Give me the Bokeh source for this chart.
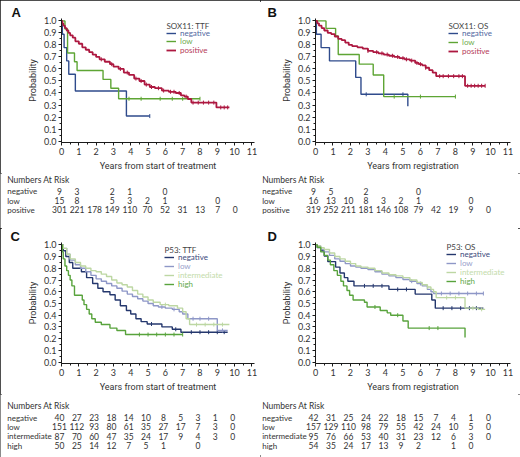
import numpy as np
from bokeh.plotting import figure
from bokeh.models import (Range1d, SingleIntervalTicker, NumeralTickFormatter, Label,
                          Legend, LegendItem, GridBox)
from bokeh.layouts import row
from bokeh.embed import file_html
from bokeh.resources import INLINE
from bokeh.core.properties import value

YEARS = list(range(11))

# ---------------- Panel A: SOX11 TTF ----------------
A_neg_t = [0, 0.05, 0.15, 0.3, 0.42, 0.8, 3.75]
A_neg_s = [1.0, 0.889, 0.778, 0.667, 0.556, 0.417, 0.208]
A_neg_end = 5.1
A_neg_cens = [5.1]
A_low_t = [0, 0.2, 0.35, 0.75, 0.9, 2.4, 2.85, 3.3]
A_low_s = [1.0, 0.933, 0.733, 0.66, 0.587, 0.513, 0.44, 0.352]
A_low_end = 8.0
A_low_cens = [3.9, 4.6, 5.7, 6.4, 7.0, 8.0]
A_pos_t = [0, 0.05, 0.1, 0.2, 0.3, 0.4, 0.5, 0.65, 0.8, 1.0, 1.2, 1.4, 1.6, 1.8, 2.0, 2.2,
           2.5, 2.8, 3.0, 3.3, 3.6, 3.9, 4.2, 4.5, 4.8, 5.1, 5.4, 5.8, 6.2, 6.6, 6.9, 7.1,
           7.3, 7.5, 8.95]
A_pos_s = [1.0, 0.98, 0.96, 0.94, 0.92, 0.90, 0.88, 0.86, 0.83, 0.81, 0.78, 0.76, 0.74, 0.72,
           0.70, 0.68, 0.66, 0.64, 0.62, 0.60, 0.57, 0.55, 0.52, 0.50, 0.47, 0.45, 0.44, 0.42,
           0.41, 0.40, 0.38, 0.37, 0.35, 0.32, 0.28]
A_pos_end = 9.7
A_pos_cens = [2.3, 2.9, 3.4, 3.8, 4.3, 4.6, 4.9, 5.2, 5.6, 5.9, 6.3, 6.5, 6.8, 7.2, 7.6,
              7.9, 8.2, 8.5, 8.8, 9.2, 9.4, 9.6]
A_risk_neg = [9, 3, None, 2, 1, None, 0, None, None, None, None]
A_risk_low = [15, 8, None, 5, 3, 2, 1, None, None, 0, None]
A_risk_pos = [301, 221, 178, 149, 110, 70, 52, 31, 13, 7, 0]

# ---------------- Panel B: SOX11 OS ----------------
B_neg_t = [0, 0.05, 0.32, 0.8, 2.3, 2.6, 5.28]
B_neg_s = [1.0, 0.889, 0.778, 0.667, 0.53, 0.389, 0.29]
B_neg_end = 5.28
B_neg_cens = [2.9, 5.0]
B_low_t = [0, 0.6, 1.15, 1.3, 2.5, 3.3, 3.9]
B_low_s = [1.0, 0.9375, 0.875, 0.72, 0.64, 0.55, 0.37]
B_low_end = 8.0
B_low_cens = [4.5, 6.0, 8.0]
B_pos_t = [0, 0.1, 0.2, 0.35, 0.5, 0.7, 0.9, 1.1, 1.3, 1.5, 1.7, 1.9, 2.1, 2.4, 2.7, 3.0,
           3.3, 3.6, 3.9, 4.2, 4.5, 4.8, 5.1, 5.4, 5.7, 5.9, 6.1, 6.3, 6.5, 6.7, 6.9, 8.55]
B_pos_s = [1.0, 0.98, 0.96, 0.94, 0.92, 0.90, 0.89, 0.87, 0.85, 0.84, 0.82, 0.80, 0.79, 0.78,
           0.77, 0.75, 0.74, 0.73, 0.72, 0.71, 0.70, 0.69, 0.68, 0.67, 0.65, 0.64, 0.63, 0.61,
           0.59, 0.57, 0.54, 0.46]
B_pos_end = 9.7
B_pos_cens = [3.0, 3.5, 3.8, 4.1, 4.4, 4.7, 5.0, 5.2, 5.5, 5.8, 6.0, 6.3, 7.1, 7.3, 7.6, 7.9,
              8.2, 8.4, 8.7, 8.9, 9.1, 9.3, 9.5, 9.7]
B_risk_neg = [9, 5, None, 2, None, None, 0, None, None, None, None]
B_risk_low = [16, 13, 10, 8, 3, 2, 1, None, None, 0, None]
B_risk_pos = [319, 252, 211, 181, 146, 108, 79, 42, 19, 9, 0]

# ---------------- Panel C: P53 TTF ----------------
C_neg_t = [0, 0.1, 0.25, 0.45, 0.65, 1.15, 1.45, 1.8, 2.1, 2.4, 2.8, 3.1, 3.4, 3.75, 4.0,
           4.3, 4.6, 4.95, 5.8, 6.4, 6.9]
C_neg_s = [1.0, 0.95, 0.90, 0.85, 0.80, 0.77, 0.72, 0.67, 0.63, 0.60, 0.575, 0.53, 0.48,
           0.44, 0.41, 0.37, 0.345, 0.325, 0.30, 0.28, 0.255]
C_neg_end = 9.6
C_neg_cens = [5.2, 6.6, 7.5, 8.0, 8.5, 9.0, 9.4]
C_low_t = [0, 0.1, 0.3, 0.5, 0.8, 1.1, 1.4, 1.7, 2.0, 2.3, 2.6, 2.9, 3.2, 3.5, 3.8, 4.1,
           4.4, 4.7, 5.0, 5.3, 5.6, 6.0, 6.4, 6.8, 7.0, 7.3, 9.0]
C_low_s = [1.0, 0.97, 0.92, 0.87, 0.83, 0.80, 0.77, 0.74, 0.71, 0.69, 0.67, 0.65, 0.63,
           0.605, 0.58, 0.56, 0.54, 0.52, 0.50, 0.48, 0.47, 0.46, 0.45, 0.43, 0.41, 0.37, 0.27]
C_low_end = 9.6
C_low_cens = [5.8, 6.5, 7.6, 8.0, 8.5, 9.3]
C_int_t = [0, 0.1, 0.3, 0.5, 0.8, 1.1, 1.4, 1.7, 2.0, 2.3, 2.6, 2.9, 3.2, 3.5, 3.8, 4.1,
           4.4, 4.7, 5.0, 5.3, 5.7, 6.2, 6.7, 7.0, 7.2, 7.4]
C_int_s = [1.0, 0.97, 0.92, 0.88, 0.85, 0.82, 0.80, 0.78, 0.77, 0.75, 0.73, 0.70, 0.675,
           0.66, 0.64, 0.61, 0.58, 0.555, 0.53, 0.51, 0.49, 0.48, 0.46, 0.43, 0.37, 0.32]
C_int_end = 9.7
C_int_cens = [6.0, 7.8, 8.3, 8.8, 9.3]
C_high_t = [0, 0.05, 0.1, 0.2, 0.3, 0.4, 0.5, 0.6, 0.75, 1.2, 1.3, 1.45, 1.6, 1.75, 1.95,
            2.3, 2.8, 3.2, 3.7]
C_high_s = [1.0, 0.94, 0.88, 0.82, 0.78, 0.74, 0.70, 0.65, 0.57, 0.53, 0.49, 0.45, 0.41,
            0.37, 0.34, 0.32, 0.29, 0.27, 0.235]
C_high_end = 7.0
C_high_cens = [4.5, 5.0, 5.5, 6.0, 6.5, 7.0]
C_risk_neg = [40, 27, 23, 18, 14, 10, 8, 5, 3, 1, 0]
C_risk_low = [151, 112, 93, 80, 61, 35, 27, 17, 7, 3, 0]
C_risk_int = [87, 70, 60, 47, 35, 24, 17, 9, 4, 3, 0]
C_risk_high = [50, 25, 14, 12, 7, 5, 1, None, 0, None, None]

# ---------------- Panel D: P53 OS ----------------
D_neg_t = [0, 0.1, 0.3, 0.5, 0.7, 1.15, 1.4, 1.65, 1.85, 2.2, 4.2, 5.7, 6.65, 6.85]
D_neg_s = [1.0, 0.976, 0.95, 0.905, 0.857, 0.81, 0.76, 0.72, 0.69, 0.65, 0.62, 0.58, 0.53, 0.46]
D_neg_end = 9.6
D_neg_cens = [2.8, 3.3, 3.8, 4.7, 5.2, 7.3, 7.8, 8.3, 8.8, 9.2]
D_low_t = [0, 0.1, 0.3, 0.5, 0.8, 1.1, 1.4, 1.7, 2.0, 2.3, 2.6, 3.0, 3.4, 3.8, 4.2, 4.6,
           5.0, 5.4, 5.8, 6.1, 6.4, 6.6, 6.75]
D_low_s = [1.0, 0.99, 0.96, 0.94, 0.91, 0.88, 0.86, 0.84, 0.82, 0.81, 0.80, 0.79, 0.77,
           0.75, 0.735, 0.72, 0.705, 0.69, 0.67, 0.65, 0.62, 0.60, 0.585]
D_low_end = 9.6
D_low_cens = [5.5, 6.0, 7.2, 7.7, 8.2, 8.7, 9.2, 9.6]
D_int_t = [0, 0.1, 0.3, 0.5, 0.8, 1.1, 1.4, 1.7, 2.0, 2.3, 2.6, 3.0, 3.4, 3.8, 4.2, 4.6,
           5.0, 5.4, 5.8, 6.1, 6.4, 6.6, 6.75, 6.9, 8.55, 9.3]
D_int_s = [1.0, 0.99, 0.975, 0.96, 0.93, 0.90, 0.88, 0.86, 0.84, 0.82, 0.81, 0.80, 0.78,
           0.76, 0.745, 0.735, 0.72, 0.70, 0.68, 0.66, 0.64, 0.62, 0.60, 0.55, 0.46, 0.45]
D_int_end = 9.7
D_int_cens = [6.4, 7.5, 8.0, 9.0, 9.5]
D_high_t = [0, 0.1, 0.3, 0.5, 0.7, 0.85, 1.05, 1.25, 1.45, 1.6, 1.8, 1.95, 2.15, 2.8, 2.95,
            3.7, 4.1, 4.3, 5.0, 5.3, 8.55]
D_high_s = [1.0, 0.98, 0.94, 0.91, 0.87, 0.83, 0.78, 0.74, 0.69, 0.65, 0.61, 0.57, 0.53,
            0.51, 0.47, 0.44, 0.42, 0.40, 0.35, 0.29, 0.21]
D_high_end = 8.55
D_high_cens = [3.4, 4.7, 6.5, 7.0]
D_risk_neg = [42, 31, 25, 24, 22, 18, 15, 7, 4, 1, 0]
D_risk_low = [157, 129, 110, 98, 79, 55, 42, 24, 10, 5, 0]
D_risk_int = [95, 76, 66, 53, 40, 31, 23, 12, 6, 3, 0]
D_risk_high = [54, 35, 24, 17, 13, 9, 2, None, 1, 0, None]

NAMES_AB = ["negative", "low", "positive"]
NAMES_CD = ["negative", "low", "intermediate", "high"]
COLORS_AB = ["#2f4b8c", "#5ea534", "#ad1840"]
TEXTC_AB = ["#51679f", "#71ad50", "#b53a58"]
COLORS_CD = ["#24376d", "#8e97c7", "#bdd7a3", "#58a33c"]
TEXTC_CD = ["#3b4a7c", "#9aa2cc", "#c3dbab", "#63a748"]

FONT = "Lato"
AXFONT = "Roboto"
TXT = "#333333"
XEND = 11.15
NUMFS = "8.5px"
NAMEFS = "8px"


def make_km(letter, ltitle, xlabel, series, names, colors, textc, g):
    fw, fh = g["fw"], g["fh"]
    kh = g["t"] + fh + g["b"]
    p = figure(width=g["w"], height=kh, x_range=Range1d(0, XEND),
               y_range=Range1d(-0.012, 1.02), output_backend="svg",
               toolbar_location=None, min_border_left=g["l"],
               min_border_right=g["w"] - g["l"] - fw, min_border_top=g["t"],
               min_border_bottom=g["b"], title=letter)
    p.title.align = "left"
    p.title.offset = g["po"]
    p.title.standoff = g["ps"]
    p.title.text_font = "Liberation Sans"
    p.title.text_font_style = "bold"
    p.title.text_font_size = "13px"
    p.title.text_color = "#111111"
    p.outline_line_color = None
    p.grid.visible = False
    p.xaxis.ticker = SingleIntervalTicker(interval=1, num_minor_ticks=2)
    p.yaxis.ticker = SingleIntervalTicker(interval=0.1, num_minor_ticks=2)
    p.yaxis.formatter = NumeralTickFormatter(format="0.0")
    for ax in (p.xaxis[0], p.yaxis[0]):
        ax.axis_line_color = "#1a1a1a"
        ax.major_tick_line_color = "#1a1a1a"
        ax.minor_tick_line_color = "#1a1a1a"
        ax.major_tick_out = 3
        ax.major_tick_in = 0
        ax.minor_tick_out = 2
        ax.minor_tick_in = 0
        ax.major_label_text_font = FONT
        ax.major_label_text_font_size = "9px"
        ax.major_label_text_color = TXT
        ax.axis_label_text_font = AXFONT
        ax.axis_label_text_font_style = "normal"
        ax.axis_label_text_font_size = "9px"
        ax.axis_label_text_color = TXT
        ax.major_label_standoff = 2
        ax.axis_label_standoff = 3
    p.xaxis.axis_label = xlabel
    p.yaxis.axis_label = "Probability"

    renderers = []
    for (t, s, end, cens), col in zip(series, colors):
        xs = list(t) + [end]
        ys = list(s) + [s[-1]]
        lw = 1.8 if col == "#ad1840" else 1.4
        r = p.step(xs, ys, mode="after", line_color=col, line_width=lw)
        renderers.append(r)
        idx = np.searchsorted(np.array(t), np.array(cens), side="right") - 1
        cy = np.array(s)[idx]
        p.scatter(cens, cy, marker="dash", angle=np.pi / 2, size=4,
                  line_color=col, line_width=1)

    p.add_layout(Label(x=g["lx"], y=g["ly"], x_units="screen", y_units="screen",
                       text=ltitle, text_font=FONT, text_font_size="8px",
                       text_color="#444444", text_baseline="middle"))
    for i, (r, nm, tc) in enumerate(zip(renderers, names, textc)):
        leg = Legend(items=[LegendItem(label=value(nm), renderers=[r])],
                     location=(g["lx"], g["ly"] - 4 - (i + 1) * g["lstep"]),
                     padding=0, margin=0, spacing=0, glyph_width=10, glyph_height=8,
                     label_height=8, label_standoff=4, border_line_alpha=0,
                     background_fill_alpha=0, label_text_font=FONT,
                     label_text_font_size="8px", label_text_color=tc)
        p.add_layout(leg)
    return p


def make_table(names, risk, g):
    w, th = g["w"], g["th"]
    pxyr = g["fw"] / XEND
    x0 = -g["l"] / pxyr
    tab = figure(width=w, height=th, toolbar_location=None, output_backend="svg",
                 x_axis_location=None, y_axis_location=None, min_border=0,
                 x_range=Range1d(x0, x0 + w / pxyr), y_range=Range1d(0, th))
    tab.outline_line_color = None
    tab.grid.visible = False
    rows_y = [th - (g["r0"] + i * g["rs"]) for i in range(len(names))]
    tab.text(x=[x0 + g["rx"] / pxyr], y=[th - g["nar"]], text=["Numbers At Risk"],
             text_font=value(FONT), text_font_size=NUMFS, text_color=TXT,
             text_baseline="middle")
    tab.text(x=[x0 + g["rx"] / pxyr] * len(names), y=rows_y, text=names,
             text_font=value(FONT), text_font_size=NAMEFS, text_color=TXT,
             text_baseline="middle")
    xs, ys, tx = [], [], []
    for i, vals in enumerate(risk):
        for yr, v in zip(YEARS, vals):
            if v is not None:
                xs.append(yr)
                ys.append(rows_y[i])
                tx.append(str(v))
    tab.text(x=xs, y=ys, text=tx, x_offset=-2, text_font=value(FONT),
             text_font_size=NUMFS, text_color=TXT, text_align="center",
             text_baseline="middle")
    return tab


gA = dict(w=260, l=61, t=18, fw=196, fh=125, b=30, th=55, po=-50, ps=-3,
          lx=105, ly=117, lstep=8.7, rx=6.7, nar=6.3, r0=17.7, rs=9.3)
gB = dict(w=260, l=55, t=18, fw=195, fh=125, b=30, th=55, po=-48, ps=-3,
          lx=133, ly=117, lstep=9.0, rx=1.7, nar=6.3, r0=17.7, rs=9.3)
gC = dict(w=260, l=61, t=14, fw=193, fh=122, b=30, th=63, po=-51, ps=-3,
          lx=103, ly=114, lstep=8.9, rx=6.7, nar=11, r0=23, rs=9.4)
gD = dict(w=260, l=55, t=14, fw=195, fh=122, b=30, th=63, po=-48, ps=-3,
          lx=131, ly=117, lstep=8.9, rx=1.7, nar=11, r0=23, rs=9.4)

kmA = make_km("A", "SOX11: TTF", "Years from start of treatment",
              [(A_neg_t, A_neg_s, A_neg_end, A_neg_cens),
               (A_low_t, A_low_s, A_low_end, A_low_cens),
               (A_pos_t, A_pos_s, A_pos_end, A_pos_cens)],
              NAMES_AB, COLORS_AB, TEXTC_AB, gA)
kmB = make_km("B", "SOX11: OS", "Years from registration",
              [(B_neg_t, B_neg_s, B_neg_end, B_neg_cens),
               (B_low_t, B_low_s, B_low_end, B_low_cens),
               (B_pos_t, B_pos_s, B_pos_end, B_pos_cens)],
              NAMES_AB, COLORS_AB, TEXTC_AB, gB)
kmC = make_km("C", "P53: TTF", "Years from start of treatment",
              [(C_neg_t, C_neg_s, C_neg_end, C_neg_cens),
               (C_low_t, C_low_s, C_low_end, C_low_cens),
               (C_int_t, C_int_s, C_int_end, C_int_cens),
               (C_high_t, C_high_s, C_high_end, C_high_cens)],
              NAMES_CD, COLORS_CD, TEXTC_CD, gC)
kmD = make_km("D", "P53: OS", "Years from registration",
              [(D_neg_t, D_neg_s, D_neg_end, D_neg_cens),
               (D_low_t, D_low_s, D_low_end, D_low_cens),
               (D_int_t, D_int_s, D_int_end, D_int_cens),
               (D_high_t, D_high_s, D_high_end, D_high_cens)],
              NAMES_CD, COLORS_CD, TEXTC_CD, gD)

tA = make_table(NAMES_AB, [A_risk_neg, A_risk_low, A_risk_pos], gA)
tB = make_table(NAMES_AB, [B_risk_neg, B_risk_low, B_risk_pos], gB)
tC = make_table(NAMES_CD, [C_risk_neg, C_risk_low, C_risk_int, C_risk_high], gC)
tD = make_table(NAMES_CD, [D_risk_neg, D_risk_low, D_risk_int, D_risk_high], gD)

layout = GridBox(children=[(kmA, 0, 0), (kmB, 0, 1), (row(tA, tB), 1, 0, 1, 2),
                           (kmC, 2, 0), (kmD, 2, 1), (row(tC, tD), 3, 0, 1, 2)],
                 styles={"outline": "2px solid #141414", "outline-offset": "-2px"})
open("out.html", "w").write(file_html(layout, INLINE))
